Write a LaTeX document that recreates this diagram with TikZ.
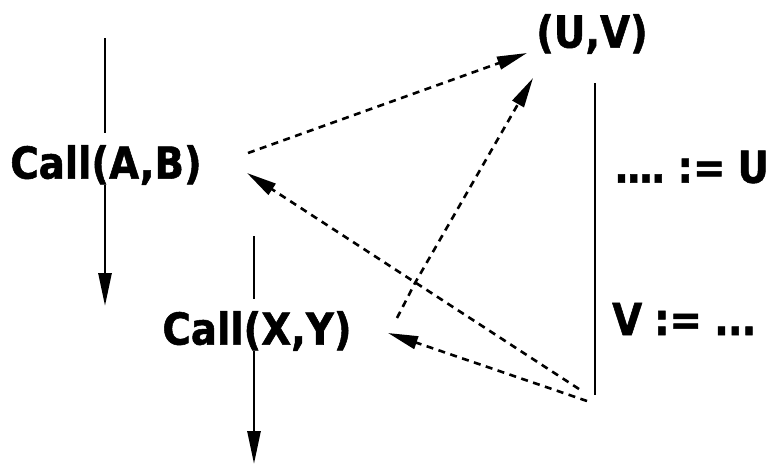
\documentclass[tikz,border=0pt]{standalone}
\usepackage{fontspec}
\setmainfont{DejaVu Sans}[FakeStretch=0.88, BoldFeatures={FakeBold=1.2}]
\usetikzlibrary{arrows.meta}
\tikzset{
  lbl/.style={inner sep=0pt, font=\fontsize{44}{50}\selectfont\bfseries},
  flow/.style={line width=2.8pt},
  flowarr/.style={flow, -{Triangle[length=33pt,width=13pt]}},
  dsh/.style={line width=2.6pt, dash pattern=on 7pt off 5.5pt, -{Triangle[length=30pt,width=13pt]}}
}
\begin{document}
\begin{tikzpicture}[x=1pt,y=-1pt]
\useasboundingbox (0,0) rectangle (773,464);
% text nodes
\node[lbl] (ab) at (106,165) {Call(A,B)};
\node[lbl] (xy) at (257,331) {Call(X,Y)};
\node[lbl] (uv) at (592,34) {(U,V)};
\node[lbl, anchor=west] (u) at (614,167) {.\kern-2.5pt.\kern-2.5pt.\kern-2.5pt.\hspace{12pt}:=\hspace{12pt}U};
\node[lbl, anchor=west] (v) at (612,319) {V\hspace{12pt}:=\hspace{12pt}.\kern-1pt.\kern-1pt.};
% free ends
\coordinate (abtop) at (105,38);
\coordinate (abbot) at (105,306);
\coordinate (xytop) at (254,236);
\coordinate (xybot) at (254,464);
\coordinate (rtop) at (595,83);
\coordinate (rbot) at (595,395);
\coordinate (about) at (248,153);
\coordinate (abin) at (247,173);
\coordinate (xyout) at (397,318);
\coordinate (xyin) at (388,333);
\coordinate (uvin1) at (527,53);
\coordinate (uvin2) at (533,78);
\coordinate (kink) at (415,283);
\coordinate (src1) at (579,389);
\coordinate (src2) at (587,401);
% control flow lines
\draw[flow] (abtop) -- ([yshift=12pt]abtop |- ab.north);
\draw[flowarr] (abtop |- ab.south) -- (abbot);
\draw[flow] (xytop) -- ([yshift=12pt]xytop |- xy.north);
\draw[flowarr] (xytop |- xy.south) -- (xybot);
\draw[flow] (rtop) -- (rbot);
% dashed dependences
\draw[dsh] (about) -- (uvin1);
\draw[dsh] (xyout) -- (kink) -- (uvin2);
\draw[dsh] (src1) -- (abin);
\draw[dsh] (src2) -- (xyin);
\end{tikzpicture}
\end{document}
